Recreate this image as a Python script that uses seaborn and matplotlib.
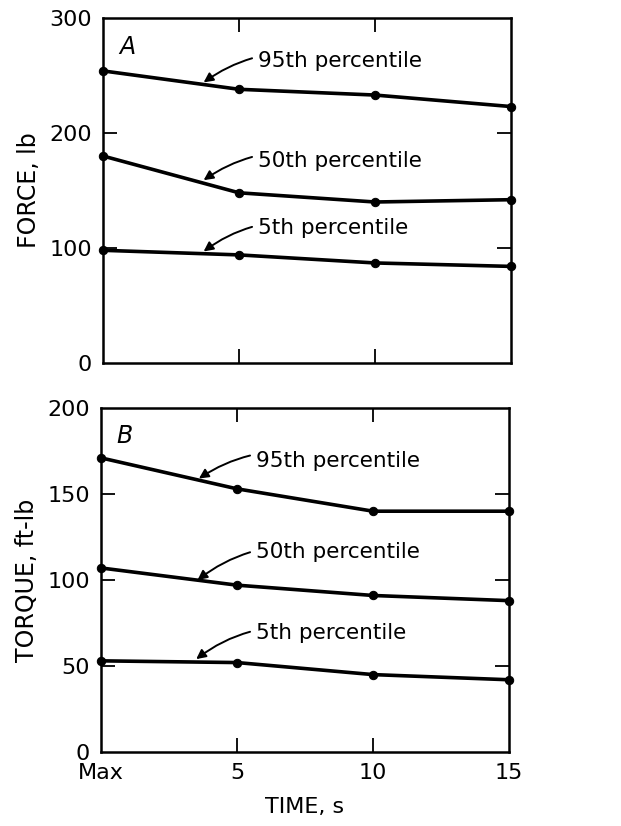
import pandas as pd
import seaborn as sns
import matplotlib.pyplot as plt

# time axis: 0 stands for "Max"
time = [0, 5, 10, 15]
time_labels = ['Max', '5', '10', '15']
percentiles = ['95th percentile', '50th percentile', '5th percentile']

# A - force, lb
force_95 = [254, 238, 233, 223]
force_50 = [180, 148, 140, 142]
force_5 = [98, 94, 87, 84]

# B - torque, ft-lb
torque_95 = [171, 153, 140, 140]
torque_50 = [107, 97, 91, 88]
torque_5 = [53, 52, 45, 42]


def long_form(series):
    rows = []
    for name, vals in zip(percentiles, series):
        for t, v in zip(time, vals):
            rows.append({'time': t, 'value': v, 'pct': name})
    return pd.DataFrame(rows)


force_df = long_form([force_95, force_50, force_5])
torque_df = long_form([torque_95, torque_50, torque_5])

sns.set_style('ticks', rc={'text.color': 'black', 'axes.labelcolor': 'black',
                           'xtick.color': 'black', 'ytick.color': 'black',
                           'axes.edgecolor': 'black'})
plt.rcParams['font.family'] = ['DejaVu Sans']

fig = plt.figure(figsize=(6.21, 8.26), dpi=100)
axA = fig.add_axes([103 / 621, 1 - 363 / 826, 408 / 621, 345 / 826])
axB = fig.add_axes([101 / 621, 1 - 752 / 826, 408 / 621, 344 / 826])

pal = {p: 'black' for p in percentiles}
for ax, df in [(axA, force_df), (axB, torque_df)]:
    sns.lineplot(data=df, x='time', y='value', hue='pct', palette=pal,
                 marker='o', markersize=6, markeredgecolor='black',
                 linewidth=2.6, legend=False, ax=ax, clip_on=False, zorder=3)
    ax.set_xlim(0, 15)
    ax.set_xticks([5, 10])
    ax.tick_params(direction='in', length=10, width=1.3, top=True, right=True,
                   labelsize=16, pad=8)
    for s in ax.spines.values():
        s.set_linewidth(1.8)

axA.set_ylim(0, 300)
axA.set_yticks([0, 100, 200, 300])
axA.set_xticklabels([])
axA.set_xlabel('')
axA.set_ylabel('FORCE, lb', fontsize=17, labelpad=6)

axB.set_ylim(0, 200)
axB.set_yticks([0, 50, 100, 150, 200])
axB.set_xticks(time)
axB.set_xticklabels(time_labels)
axB.set_xlabel('TIME, s', fontsize=16, labelpad=10)
axB.set_ylabel('TORQUE, ft-lb', fontsize=17, labelpad=6)

# hide the end ticks that sit on the frame corners
for ax in (axA, axB):
    for t in ax.yaxis.get_major_ticks()[::len(ax.get_yticks()) - 1]:
        t.tick1line.set_visible(False)
        t.tick2line.set_visible(False)
for t in (axB.xaxis.get_major_ticks()[0], axB.xaxis.get_major_ticks()[-1]):
    t.tick1line.set_visible(False)
    t.tick2line.set_visible(False)

axA.text(0.6, 275, 'A', fontsize=17, style='italic', va='center')
axB.text(0.55, 184, 'B', fontsize=17, style='italic', va='center')

arrow = dict(arrowstyle='-|>', connectionstyle='arc3,rad=0.25', color='black',
             lw=1.4, mutation_scale=14, shrinkA=2, shrinkB=0)
# text position, arrow target (data coords)
notesA = [((5.7, 263), (3.7, 244)), ((5.7, 176), (3.7, 159)), ((5.7, 117), (3.7, 97))]
notesB = [((5.7, 169), (3.6, 159)), ((5.7, 116), (3.55, 100)), ((5.7, 69), (3.5, 54))]
for ax, notes in [(axA, notesA), (axB, notesB)]:
    for name, (txt, tgt) in zip(percentiles, notes):
        ax.annotate(name, xy=tgt, xytext=txt, fontsize=15.5, va='center',
                    ha='left', arrowprops=arrow)

fig.savefig('out.png', dpi=100)
